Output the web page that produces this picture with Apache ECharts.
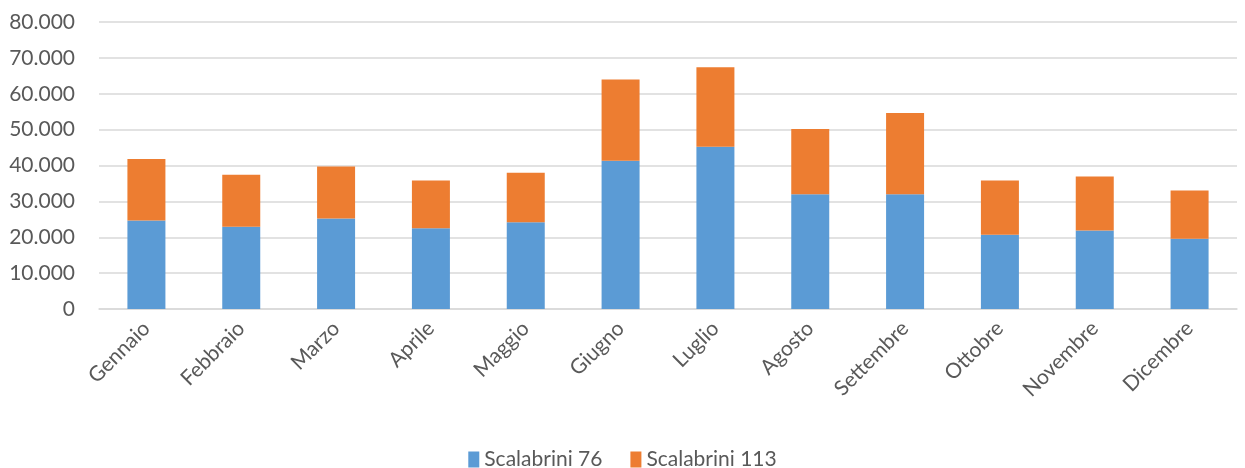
<!DOCTYPE html>
<html>
<head>
<meta charset="utf-8">
<script src="https://cdn.jsdelivr.net/npm/echarts@6/dist/echarts.min.js"></script>
<style>
  html, body { margin: 0; padding: 0; background: #fff; }
  #chart { width: 1245px; height: 468px; }
</style>
</head>
<body>
<div id="chart"></div>
<script>
const MONTHS = [
    'Gennaio', 'Febbraio', 'Marzo', 'Aprile', 'Maggio', 'Giugno',
    'Luglio', 'Agosto', 'Settembre', 'Ottobre', 'Novembre', 'Dicembre'
]

const SCALABRINI_76 = [24700, 22900, 25200, 22500, 24200, 41300, 45200, 32000, 32000, 20700, 21900, 19600]
const SCALABRINI_113 = [17100, 14500, 14500, 13300, 13800, 22700, 22200, 18200, 22600, 15100, 15000, 13400]

const SERIES_NAMES = ['Scalabrini 76', 'Scalabrini 113']

// Excel-style thousands separator
function fmt(v) {
    return String(v).replace(/\B(?=(\d{3})+(?!\d))/g, '.')
}

const FONT = 'Lato, "Open Sans", sans-serif'

let chart = echarts.init(document.getElementById('chart'))
chart.setOption({
    animation: false,
    grid: { left: 99, right: 8, top: 22, bottom: 159 },
    legend: {
        data: SERIES_NAMES,
        top: 444,
        left: 'center',
        icon: 'rect',
        itemWidth: 11,
        itemHeight: 16,
        itemGap: 28,
        itemTextGap: 5,
        textStyle: { color: '#595959', fontSize: 21, fontFamily: FONT }
    },
    xAxis: {
        type: 'category',
        data: MONTHS,
        axisLine: { lineStyle: { color: '#d9d9d9', width: 1.5 } },
        axisTick: { show: false },
        axisLabel: {
            rotate: 45,
            interval: 0,
            margin: 16,
            color: '#595959',
            fontSize: 21,
            fontFamily: FONT
        }
    },
    yAxis: {
        type: 'value',
        min: 0,
        max: 80000,
        interval: 10000,
        axisLine: { show: false },
        axisTick: { show: false },
        splitLine: { lineStyle: { color: '#d9d9d9', width: 1.5 } },
        axisLabel: {
            color: '#595959',
            fontSize: 21,
            fontFamily: FONT,
            margin: 24,
            formatter: fmt
        }
    },
    series: [
        {
            name: SERIES_NAMES[0],
            type: 'bar',
            stack: 'tot',
            barWidth: 38,
            itemStyle: { color: '#5b9bd5' },
            data: SCALABRINI_76
        },
        {
            name: SERIES_NAMES[1],
            type: 'bar',
            stack: 'tot',
            barWidth: 38,
            itemStyle: { color: '#ed7d31' },
            data: SCALABRINI_113
        }
    ]
})
</script>
</body>
</html>
